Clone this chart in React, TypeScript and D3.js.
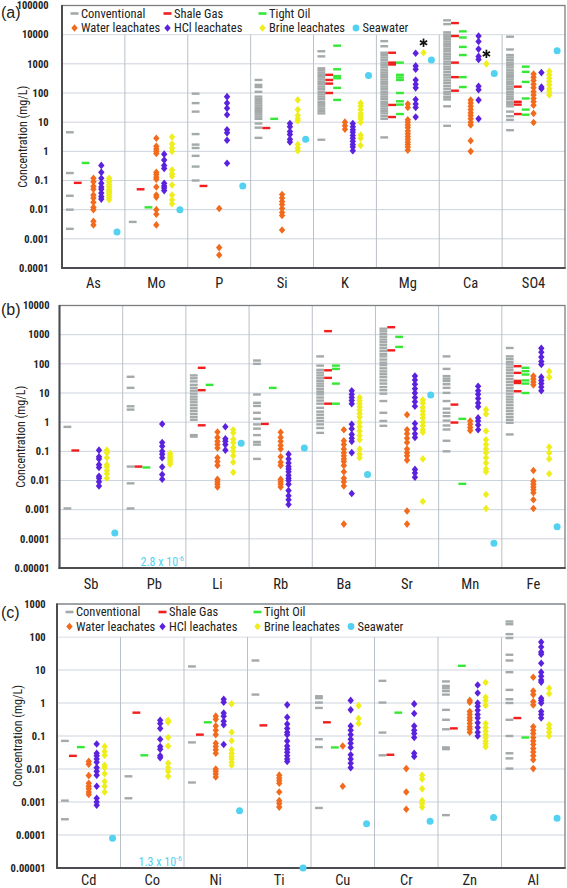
import React from "react";
import * as d3 from "d3";

// ---------------- DATA ----------------
const seriesKeys = ["conv", "shale", "tight", "water", "hcl", "brine", "sea"];
const seriesLabels = ["Conventional", "Shale Gas", "Tight Oil", "Water leachates", "HCl leachates", "Brine leachates", "Seawater"];
const seriesColors = ["#a3aaa9", "#f21d1d", "#35e835", "#f26b1d", "#5a22de", "#eeee1c", "#52d2f0"];

// Panel (a)
const catsA = ["As", "Mo", "P", "Si", "K", "Mg", "Ca", "SO4"];
const tickLabelsA = ["0.0001", "0.001", "0.01", "0.1", "1", "10", "100", "1000", "10000", "100000"];
const convA = [
  [4.5, 0.18, 0.03, 0.01, 0.0022],
  [0.0038],
  [95, 45, 23, 3.9, 1.7, 1.3, 0.7, 0.3, 0.1],
  [280, 190, 160, 110, 75, 62, 52, 44, 37, 31, 26, 22, 18.5, 15.5, 13, 9, 6.5, 2.9],
  [2700, 1800, 700, 600, 500, 420, 350, 290, 240, 200, 165, 135, 110, 90, 75, 62, 50, 42, 35, 29, 24, 20, 2.5],
  [6000, 4000, 2400, 2000, 1650, 1350, 1100, 900, 750, 600, 500, 420, 350, 290, 240, 200, 165, 135, 110, 90, 75, 62, 50, 42, 35, 29, 24, 20, 16, 13, 3],
  [31000, 23000, 12000, 10000, 8500, 7000, 5800, 4800, 4000, 3300, 2700, 2200, 1800, 1500, 1200, 1000, 800, 650, 520, 420, 340, 270, 220, 175, 140, 110, 90, 72, 60, 35, 7.5],
  [8500, 3100, 2000, 1650, 1350, 1100, 900, 750, 600, 500, 420, 350, 290, 240, 200, 165, 135, 110, 90, 75, 62, 50, 42, 35, 23, 16, 12, 5.3],
];
const shaleA = [[0.083], [0.05], [0.065], [6.3], [420, 280, 210, 100], [2400, 1100, 950, 39, 15], [25000, 9000, 1100, 350, 120], [165, 50, 40, 19]];
const tightA = [[0.4], [0.012], [], [13], [4200, 650, 380, 320, 150, 58], [1100, 420, 340, 280, 100, 52, 40, 19], [13000, 8000, 3800, 2000, 350, 160], [800, 530, 240, 65, 27, 18]];
const waterA = [
  [0.12, 0.09, 0.063, 0.05, 0.032, 0.025, 0.018, 0.012, 0.01, 0.004, 0.003],
  [2.8, 1.5, 1.2, 1.0, 0.85, 0.19, 0.16, 0.13, 0.11, 0.06, 0.032, 0.027, 0.01, 0.007, 0.003],
  [0.011, 0.0005, 0.00028],
  [0.033, 0.025, 0.019, 0.015, 0.011, 0.008, 0.0063, 0.002],
  [10, 7.5, 5.7],
  [42, 32, 12, 10, 8, 6.5, 5, 4, 3.2, 2.6, 2.1, 1.7, 1.4, 1.1],
  [57, 45, 35, 27, 21, 17, 13, 10, 8, 2.3, 1.0],
  [450, 350, 270, 200, 150, 110, 85, 65, 50, 38, 20, 9.7],
];
const hclA = [
  [0.33, 0.19, 0.12, 0.08, 0.06, 0.05, 0.037, 0.028, 0.023],
  [0.8, 0.5, 0.33, 0.26, 0.08, 0.065, 0.055, 0.045],
  [75, 45, 30, 18, 5.5, 4.3, 2.4, 0.39],
  [9, 7, 4.8, 3.8, 2.6, 2.1],
  [9, 7, 5.5, 4.5, 3.5, 2.8, 2.2, 1.7, 1.4, 1.05],
  [2300, 850, 650, 280, 200, 150, 60, 42, 32, 15],
  [9000, 5800, 3200, 1800, 1400, 170, 130, 57, 13],
  [500, 160, 140],
];
const brineA = [
  [0.12, 0.1, 0.085, 0.07, 0.06, 0.05, 0.045, 0.04, 0.035, 0.03, 0.026, 0.022],
  [3.1, 1.8, 1.3, 1.0, 0.23, 0.17, 0.14, 0.07, 0.032, 0.022, 0.016],
  [],
  [58, 27, 17, 13, 11, 1.7, 1.3, 1.05],
  [45, 36, 27, 20, 16, 13, 10, 3.6, 2.8, 1.6],
  [2400],
  [1000],
  [550, 420, 320, 250, 190, 140, 110, 85],
];
const seaA = [0.0017, 0.01, 0.065, 2.6, 400, 1350, 470, 2800];
const asteriskCatsA = ["Mg", "Ca"];

// Panel (b)
const catsB = ["Sb", "Pb", "Li", "Rb", "Ba", "Sr", "Mn", "Fe"];
const tickLabelsB = ["0.00001", "0.0001", "0.001", "0.01", "0.1", "1", "10", "100", "1000", "10000"];
const convB = [
  [0.69, 0.0011],
  [36, 15, 3.5, 2.7, 0.03, 0.008, 0.0011],
  [40, 32, 25, 19, 15, 12, 9.5, 7.5, 6, 4.8, 3.8, 3, 2.4, 1.9, 1.5, 1.2, 0.36, 0.32],
  [130, 100, 8.9, 4.6, 3.6, 2.1, 1.3, 0.84, 0.6, 0.36, 0.21, 0.17, 0.055],
  [180, 87, 62, 50, 40, 32, 26, 21, 17, 13.5, 11, 9, 7, 5.5, 4.3, 3.1, 2.3, 1.8, 1.4, 1.1, 0.84, 0.63, 0.43],
  [1600, 1300, 1050, 850, 680, 550, 440, 350, 280, 220, 180, 140, 110, 90, 70, 55, 44, 35, 27, 21, 16, 12.5, 9.5, 5.3, 2.1, 1.1, 0.75],
  [180, 67, 38, 31, 25.7, 20, 15, 10.1, 5.3, 2.9, 2.1, 1.6, 1.13, 0.77, 0.56, 0.23, 0.1],
  [350, 180, 145, 115, 95, 75, 60, 48, 38, 30, 24, 19, 15, 12, 9.5, 7.5, 6, 4.8, 3.8, 3, 2.4, 1.9, 1.5, 1.2, 0.95, 0.38],
];
const shaleB = [[0.107], [0.03], [73, 12.5, 0.78], [0.87], [1320, 60, 33, 4.3], [1800, 290], [4.0, 0.97], [83, 49, 26, 22, 11.5]];
const tightB = [[], [0.028], [19], [15], [87, 67, 21, 4.3], [840, 380], [1.3, 0.0077], [73, 56, 43, 27, 21, 10]];
const waterB = [
  [],
  [],
  [0.46, 0.3, 0.22, 0.17, 0.13, 0.06, 0.045, 0.033, 0.011, 0.009, 0.0075, 0.006],
  [0.45, 0.3, 0.22, 0.16, 0.12, 0.065, 0.042, 0.033, 0.011, 0.009, 0.0075, 0.006],
  [0.55, 0.23, 0.17, 0.12, 0.09, 0.07, 0.055, 0.045, 0.033, 0.02, 0.012, 0.009, 0.0065, 0.00032],
  [1.8, 0.55, 0.4, 0.28, 0.2, 0.12, 0.09, 0.07, 0.05, 0.0009, 0.00032],
  [1.1, 0.85, 0.65, 0.52],
  [38, 30, 24, 19, 0.022, 0.0095, 0.0075, 0.006, 0.0048, 0.0038, 0.0022, 0.0011],
];
const hclB = [
  [0.11, 0.065, 0.055, 0.035, 0.028, 0.014, 0.012, 0.009, 0.0065],
  [0.87, 0.2, 0.15, 0.1, 0.08, 0.06, 0.029, 0.016, 0.011],
  [0.7, 0.27, 0.22, 0.17, 0.11],
  [0.08, 0.055, 0.04, 0.03, 0.025, 0.02, 0.015, 0.012, 0.01, 0.0075, 0.0045, 0.003, 0.0022, 0.0015],
  [12, 9, 7, 5.5, 4.3, 0.85, 0.6, 0.38, 0.28, 0.22, 0.09, 0.0036],
  [38, 28, 20, 14, 10, 7, 5, 3.5, 0.9, 0.6, 0.4, 0.3, 0.024, 0.018, 0.013],
  [17, 12, 9, 6.5, 4.5, 3.4, 1.4, 1.1, 0.8, 0.55],
  [340, 250, 170, 120, 95, 35, 27, 21, 16, 12],
];
const brineB = [
  [0.11, 0.09, 0.06, 0.035, 0.029, 0.022, 0.017, 0.012],
  [0.085, 0.07, 0.06, 0.05, 0.042, 0.036],
  [0.55, 0.43, 0.26, 0.2, 0.135, 0.1, 0.07, 0.042, 0.019],
  [],
  [7, 5.5, 4.3, 3.3, 2.6, 2.0, 1.5, 1.0, 0.7, 0.5, 0.35, 0.25, 0.12, 0.08, 0.06],
  [5.8, 4.5, 3.2, 2.4, 1.8, 1.4, 1.0, 0.75, 0.55, 0.45, 0.055, 0.0019],
  [2.7, 1.9, 0.5, 0.25, 0.17, 0.12, 0.09, 0.06, 0.04, 0.025, 0.02, 0.0033, 0.0011],
  [55, 35, 0.14, 0.09, 0.055, 0.017],
];
const seaB = [0.00016, null, 0.19, 0.13, 0.016, 8.5, 0.00007, 0.00026];
const offChartB = { cat: "Pb", base: "2.8 x 10", exp: "-6" };

// Panel (c)
const catsC = ["Cd", "Co", "Ni", "Ti", "Cu", "Cr", "Zn", "Al"];
const tickLabelsC = ["0.00001", "0.0001", "0.001", "0.01", "0.1", "1", "10", "100", "1000"];
const convC = [
  [0.071, 0.0011, 0.0003],
  [0.006, 0.0013],
  [12.8, 0.064, 0.0039],
  [19.4, 1.8],
  [1.6, 1.4, 1.03, 0.71, 0.08, 0.046, 0.00066],
  [4.7, 1.03, 0.127, 0.026],
  [4.5, 3.3, 2.8, 2.3, 1.8, 0.62, 0.31, 0.16, 0.045, 0.04, 0.0004],
  [295, 245, 122, 93, 29, 19.4, 8.6, 2.5, 1.3, 1.0, 0.31, 0.1, 0.03, 0.021, 0.0103],
];
const shaleC = [[0.025], [0.51], [0.11], [0.21], [0.26], [0.027], [0.17], [0.35]];
const tightC = [[0.046], [0.026], [0.26], [], [0.045], [0.51], [13.4], [0.09]];
const waterC = [
  [0.017, 0.014, 0.0063, 0.0037, 0.003, 0.0025, 0.002, 0.0017],
  [],
  [0.4, 0.32, 0.2, 0.15, 0.11, 0.06, 0.048, 0.038, 0.03, 0.01, 0.0085, 0.007, 0.0057],
  [0.0065, 0.0053, 0.0045, 0.0037, 0.002, 0.0011, 0.0009, 0.0007],
  [0.05, 0.003],
  [0.0103, 0.002, 0.0006],
  [1.2, 1.05, 0.55, 0.45, 0.36, 0.3, 0.24, 0.19, 0.16, 0.13],
  [6, 2.3, 1.8, 1.1, 0.87, 0.19, 0.15, 0.12, 0.09, 0.07, 0.055, 0.042, 0.033, 0.025, 0.019, 0.0103],
];
const hclC = [
  [0.057, 0.03, 0.025, 0.02, 0.016, 0.011, 0.0085, 0.0065, 0.003, 0.0013, 0.001, 0.0008],
  [0.3, 0.24, 0.17, 0.08, 0.048, 0.04, 0.025, 0.022],
  [1.3, 1.05, 0.5, 0.4, 0.28, 0.22, 0.055],
  [0.88, 0.37, 0.23, 0.17, 0.13, 0.11, 0.07, 0.05, 0.04, 0.032, 0.025, 0.02, 0.017],
  [1.2, 0.62, 0.2, 0.15, 0.11, 0.08, 0.06, 0.045, 0.027, 0.02, 0.015, 0.011],
  [0.94, 0.48, 0.2, 0.15, 0.12, 0.09, 0.03, 0.024],
  [3.5, 2.0, 1.0, 0.8, 0.6, 0.45, 0.35, 0.25, 0.18, 0.13, 0.1],
  [70, 50, 35, 30, 16, 8.6, 6.5, 5, 4.3, 1.4, 1.2, 1.0, 0.55, 0.45, 0.35],
];
const brineC = [
  [0.048, 0.034, 0.026, 0.013, 0.011, 0.0072, 0.0042, 0.003, 0.002],
  [0.3, 0.26, 0.09, 0.05, 0.015, 0.011, 0.0085, 0.006],
  [0.95, 0.13, 0.072, 0.038, 0.03, 0.024, 0.02, 0.016, 0.013],
  [],
  [0.83, 0.34, 0.24],
  [0.0065, 0.005, 0.0025, 0.0011, 0.0009, 0.0007],
  [4.2, 1.5, 1.2, 0.85, 0.24, 0.18, 0.14, 0.11, 0.09, 0.07, 0.058, 0.047],
  [2.8, 1.9, 0.22, 0.17, 0.13, 0.1],
];
const seaC = [0.00008, null, 0.00054, 0.00001, 0.00022, 0.00026, 0.00034, 0.00032];
const offChartC = { cat: "Co", base: "1.3 x 10", exp: "-6" };

// ---------------- LAYOUT ----------------
const FONT = "'Liberation Sans Narrow', 'Arial Narrow', 'Roboto Condensed', 'Liberation Sans', sans-serif";
const W = 567;
const H = 888;

const panels = [
  {
    letter: "(a)", letterY: 18, cats: catsA, ticks: tickLabelsA,
    data: [convA, shaleA, tightA, waterA, hclA, brineA], sea: seaA,
    left: 62, right: 565, top: 5.5, bottom: 268, yMin: 1e-4, yMax: 1e5,
    legendTo: 1e4, tickRight: 48.5, titleX: 23, catY: 288, asterisks: asteriskCatsA, off: null,
  },
  {
    letter: "(b)", letterY: 315, cats: catsB, ticks: tickLabelsB,
    data: [convB, shaleB, tightB, waterB, hclB, brineB], sea: seaB,
    left: 59.5, right: 565, top: 305.5, bottom: 568, yMin: 1e-5, yMax: 1e4,
    legendTo: null, tickRight: 49.5, titleX: 21, catY: 588.5, asterisks: [], off: offChartB,
  },
  {
    letter: "(c)", letterY: 618, cats: catsC, ticks: tickLabelsC,
    data: [convC, shaleC, tightC, waterC, hclC, brineC], sea: seaC,
    left: 57, right: 565, top: 604, bottom: 868, yMin: 1e-5, yMax: 1e3,
    legendTo: 100, tickRight: 45.5, titleX: 17.5, catY: 884.5, asterisks: [], off: offChartC,
  },
];

const diamond = (cx, cy) => `M${cx},${cy - 3.8}L${cx + 3.2},${cy}L${cx},${cy + 3.8}L${cx - 3.2},${cy}Z`;

function Asterisk({ cx, cy }) {
  const r = 4.2;
  const angles = [90, 30, 150];
  return (
    <g stroke="#111" strokeWidth={1.7}>
      {angles.map((a) => {
        const rad = (a * Math.PI) / 180;
        return <line key={a} x1={cx - r * Math.cos(rad)} y1={cy - r * Math.sin(rad)} x2={cx + r * Math.cos(rad)} y2={cy + r * Math.sin(rad)} />;
      })}
    </g>
  );
}

function Legend({ p, y }) {
  const top = p.top;
  const bot = y(p.legendTo);
  const r1 = top + 8;
  const r2 = top + 22.5;
  const cols = [p.left + 12.5, p.left + 105.5, p.left + 200.5];
  const items = [
    { i: 0, x: cols[0], y: r1 },
    { i: 1, x: cols[1], y: r1 },
    { i: 2, x: cols[2], y: r1 },
    { i: 3, x: cols[0], y: r2 },
    { i: 4, x: cols[1], y: r2 },
    { i: 5, x: cols[2], y: r2 },
    { i: 6, x: p.left + 294, y: r2 },
  ];
  return (
    <g>
      <rect x={p.left + 1} y={top + 1} width={p.right - p.left - 2} height={bot - top - 1.5} fill="#fff" />
      {items.map((it) => {
        const c = seriesColors[it.i];
        let mark;
        if (it.i < 3) mark = <rect x={it.x - 4} y={it.y - 1.3} width={8} height={2.6} fill={c} />;
        else if (it.i < 6) mark = <path d={diamond(it.x, it.y)} fill={c} />;
        else mark = <circle cx={it.x} cy={it.y} r={3.4} fill={c} />;
        return (
          <g key={it.i}>
            {mark}
            <text x={it.x + 6.5} y={it.y + 4.3} fontSize={12.5} fontFamily={FONT} fill="#222">{seriesLabels[it.i]}</text>
          </g>
        );
      })}
    </g>
  );
}

function Panel({ p }) {
  const x = d3.scaleBand().domain(p.cats).range([p.left, p.right]);
  const sub = d3.scaleLinear().domain([0, 8]).range([0, x.bandwidth()]);
  const y = d3.scaleLog().domain([p.yMin, p.yMax]).range([p.bottom, p.top]);
  const tickVals = p.ticks.map((t) => +t);
  const gridTop = p.legendTo ? y(p.legendTo) : p.top;

  const marks = [];
  p.data.forEach((series, si) => {
    series.forEach((vals, ci) => {
      const cx = x(p.cats[ci]) + sub(si + 1);
      vals.forEach((v, k) => {
        const cy = y(v);
        const c = seriesColors[si];
        if (si < 3) {
          marks.push(<rect key={`${si}-${ci}-${k}`} x={cx - 3.9} y={cy - 1.2} width={7.8} height={2.4} fill={c} />);
        } else {
          marks.push(<path key={`${si}-${ci}-${k}`} d={diamond(cx, cy)} fill={c} />);
        }
      });
    });
  });
  p.sea.forEach((v, ci) => {
    if (v == null) return;
    marks.push(<circle key={`sea-${ci}`} cx={x(p.cats[ci]) + sub(7)} cy={y(v)} r={3.5} fill={seriesColors[6]} />);
  });

  const midY = (p.top + p.bottom) / 2;

  return (
    <g>
      {tickVals.map((t) => (
        <line key={`g${t}`} x1={p.left} x2={p.right} y1={y(t)} y2={y(t)} stroke="#cdd3dc" strokeWidth={1} />
      ))}
      {p.cats.slice(1).map((c) => (
        <line key={`v${c}`} x1={x(c)} x2={x(c)} y1={gridTop} y2={p.bottom} stroke="#b9c0c7" strokeWidth={1} />
      ))}
      {p.legendTo ? <Legend p={p} y={y} /> : null}
      <rect x={p.left} y={p.top} width={p.right - p.left} height={p.bottom - p.top} fill="none" stroke="#7b7f82" strokeWidth={1.3} />
      <line x1={p.left} x2={p.left} y1={p.top - 0.6} y2={p.bottom + 1} stroke="#4b4d50" strokeWidth={2} />
      <line x1={p.left - 1} x2={p.right + 0.6} y1={p.bottom} y2={p.bottom} stroke="#4b4d50" strokeWidth={2} />
      {marks}
      {p.asterisks.map((c) => {
        const ci = p.cats.indexOf(c);
        const v = d3.max(p.data[5][ci]);
        return <Asterisk key={`ast${c}`} cx={x(c) + sub(6)} cy={y(v) - 10} />;
      })}
      {p.off ? (
        <text x={x(p.off.cat) + x.bandwidth() / 2 + 8} y={p.bottom - 2.5} textAnchor="middle" fontSize={12} fontFamily={FONT} fill={seriesColors[6]}>
          {p.off.base}
          <tspan fontSize={8} dy={-4.5}>{p.off.exp}</tspan>
        </text>
      ) : null}
      {p.ticks.map((t) => (
        <text key={`t${t}`} x={p.tickRight} y={y(+t) + 3.8} textAnchor="end" fontSize={10.5} fontWeight="bold" fontFamily={FONT} fill="#222">{t}</text>
      ))}
      <text transform={`translate(${p.titleX},${midY}) rotate(-90)`} textAnchor="middle" dy={4} fontSize={12} fontFamily={FONT} fill="#222">Concentration (mg/L)</text>
      {p.cats.map((c) => (
        <text key={`c${c}`} x={x(c) + x.bandwidth() / 2} y={p.catY} textAnchor="middle" fontSize={14.5} fontFamily={FONT} fill="#222">{c}</text>
      ))}
      <text x={1} y={p.letterY} fontSize={16} fontFamily="'Liberation Sans', sans-serif" fill="#222">{p.letter}</text>
    </g>
  );
}

export default function App() {
  return (
    <svg width={W} height={H} style={{ position: "absolute", left: 0, top: 0, background: "#fff" }}>
      <rect width={W} height={H} fill="#fff" />
      {panels.map((p) => (
        <Panel key={p.letter} p={p} />
      ))}
    </svg>
  );
}
